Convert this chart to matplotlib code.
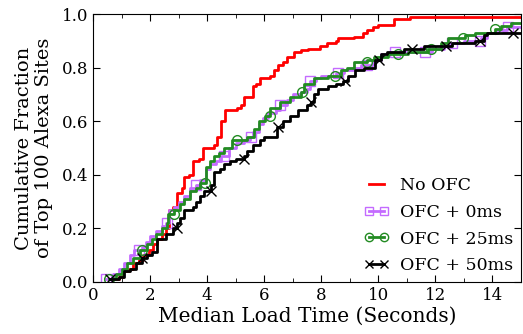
import numpy as np
import matplotlib
matplotlib.use("Agg")
import matplotlib.pyplot as plt
from matplotlib.lines import Line2D
from matplotlib.ticker import MultipleLocator

# CDF breakpoints (load time in s, cumulative fraction)
no_ofc_x = [0.6, 0.9, 1.05, 1.25, 1.4, 1.6, 1.75, 1.95, 2.1, 2.25, 2.4, 2.55, 2.65, 2.8, 2.95,
            3.1, 3.2, 3.35, 3.5, 3.7, 3.85, 4.25, 4.35, 4.5, 4.62, 5.05, 5.2, 5.3, 5.6, 5.7,
            5.85, 6.2, 6.35, 6.5, 6.65, 6.8, 7.05, 7.3, 7.55, 7.95, 8.2, 8.5, 8.6, 9.15,
            9.45, 9.6, 9.8, 10.0, 10.55, 11.1, 15.0]
no_ofc_y = [0.01, 0.02, 0.04, 0.05, 0.07, 0.08, 0.10, 0.12, 0.14, 0.16, 0.18, 0.20, 0.27, 0.28, 0.33,
            0.35, 0.39, 0.40, 0.45, 0.46, 0.50, 0.51, 0.54, 0.60, 0.64, 0.65, 0.66, 0.69, 0.73, 0.74,
            0.76, 0.77, 0.79, 0.81, 0.82, 0.84, 0.86, 0.865, 0.87, 0.88, 0.89, 0.90, 0.91, 0.915,
            0.93, 0.94, 0.95, 0.96, 0.98, 0.99, 0.99]

ofc0_x = [0.45, 0.7, 0.9, 1.1, 1.3, 1.45, 1.7, 1.85, 2.0, 2.2, 2.4, 2.55, 2.65, 2.85, 3.0, 3.2,
          3.4, 3.6, 3.75, 3.95, 4.1, 4.3, 4.5, 4.75, 5.0, 5.3, 5.5, 5.6, 5.8, 5.95, 6.15, 6.4,
          6.55, 6.8, 7.0, 7.3, 7.5, 7.6, 7.8, 8.0, 8.5, 8.8, 9.1, 9.4, 9.8, 10.1, 10.4, 11.9,
          12.3, 12.5, 13.0, 13.6, 13.8, 14.2, 14.5, 15.0]
ofc0_y = [0.01, 0.03, 0.05, 0.07, 0.10, 0.12, 0.13, 0.15, 0.17, 0.19, 0.21, 0.22, 0.27, 0.28, 0.30, 0.32,
          0.35, 0.36, 0.38, 0.42, 0.44, 0.45, 0.47, 0.50, 0.52, 0.53, 0.54, 0.56, 0.59, 0.61, 0.63, 0.64,
          0.66, 0.68, 0.70, 0.71, 0.72, 0.75, 0.76, 0.77, 0.78, 0.79, 0.80, 0.81, 0.83, 0.85, 0.86, 0.87,
          0.88, 0.89, 0.90, 0.91, 0.93, 0.94, 0.95, 0.95]
ofc0_marks = [0.45, 1.6, 2.6, 3.6, 4.6, 5.55, 6.55, 7.6, 8.6, 9.6, 10.6, 11.65, 12.6, 13.55, 14.55]

ofc25_x = [0.55, 0.8, 1.0, 1.2, 1.4, 1.65, 1.9, 2.05, 2.2, 2.4, 2.6, 2.64, 2.85, 3.05, 3.2, 3.4,
           3.6, 3.76, 3.97, 4.1, 4.23, 4.4, 4.58, 4.87, 5.4, 5.63, 5.81, 6.04, 6.22, 6.57, 6.92,
           7.28, 7.39, 7.75, 8.22, 8.69, 8.9, 9.15, 9.62, 9.86, 10.33, 11.03, 11.74, 12.2, 12.44,
           13.03, 13.38, 14.08, 14.3, 14.67, 15.0]
ofc25_y = [0.01, 0.03, 0.05, 0.07, 0.09, 0.12, 0.14, 0.16, 0.18, 0.20, 0.22, 0.255, 0.27, 0.29, 0.31, 0.34,
           0.35, 0.37, 0.43, 0.45, 0.47, 0.48, 0.50, 0.53, 0.54, 0.57, 0.60, 0.62, 0.65, 0.67, 0.69,
           0.71, 0.74, 0.76, 0.77, 0.79, 0.80, 0.82, 0.83, 0.84, 0.85, 0.86, 0.87, 0.89, 0.91,
           0.92, 0.93, 0.945, 0.955, 0.965, 0.965]
ofc25_marks = [0.55, 1.7, 2.82, 3.93, 5.05, 6.2, 7.34, 8.47, 9.59, 10.7, 11.85, 12.97, 14.08]

ofc50_x = [0.6, 0.9, 1.1, 1.3, 1.5, 1.7, 1.9, 2.05, 2.25, 2.55, 2.8, 2.95, 3.05, 3.2, 3.5, 3.6,
           3.75, 3.9, 4.15, 4.25, 4.45, 4.6, 4.8, 5.0, 5.3, 5.4, 5.6, 5.85, 6.0, 6.45, 6.65, 6.9,
           7.2, 7.5, 7.65, 7.75, 7.9, 8.25, 8.5, 8.75, 8.95, 9.2, 9.5, 9.9, 10.1, 10.3, 10.9,
           11.6, 12.6, 13.4, 13.7, 13.8, 15.0]
ofc50_y = [0.01, 0.02, 0.04, 0.05, 0.07, 0.09, 0.10, 0.11, 0.16, 0.18, 0.20, 0.22, 0.24, 0.27, 0.28, 0.30,
           0.32, 0.34, 0.36, 0.41, 0.42, 0.44, 0.45, 0.46, 0.47, 0.49, 0.51, 0.53, 0.54, 0.58, 0.60, 0.62,
           0.64, 0.66, 0.67, 0.70, 0.72, 0.73, 0.74, 0.75, 0.77, 0.79, 0.80, 0.83, 0.85, 0.86, 0.87,
           0.88, 0.89, 0.90, 0.92, 0.93, 0.93]
ofc50_marks = [0.6, 1.7, 2.93, 4.13, 5.28, 6.48, 7.65, 8.83, 10.01, 11.17, 12.38, 13.56, 14.73]

labels = ["No OFC", "OFC + 0ms", "OFC + 25ms", "OFC + 50ms"]

plt.rcParams['font.family'] = 'DejaVu Serif'


def step_at(xs, ys, q):
    idx = np.searchsorted(xs, q, side='right') - 1
    return np.asarray(ys)[np.clip(idx, 0, len(ys) - 1)]


fig = plt.figure(figsize=(5.23, 3.34), dpi=100)
ax = fig.add_axes([0.178, 0.156, 0.818, 0.802])

series = [
    (no_ofc_x, no_ofc_y, None, '#ff0000', 'None'),
    (ofc0_x, ofc0_y, ofc0_marks, '#c46bff', 's'),
    (ofc25_x, ofc25_y, ofc25_marks, '#228b22', 'o'),
    (ofc50_x, ofc50_y, ofc50_marks, 'black', 'x'),
]

handles = []
for (xs, ys, marks, col, mk), lab in zip(series, labels):
    ax.plot(xs, ys, drawstyle='steps-post', color=col, lw=2)
    if marks is not None:
        ax.plot(marks, step_at(xs, ys, marks), linestyle='none', marker=mk, ms=7,
                mfc='none', mec=col, mew=1.0)
    handles.append(Line2D([], [], color=col, lw=2, marker=mk, ms=6, mfc='none',
                          mec=col, mew=1.0))

ax.set_xlim(0, 15)
ax.set_ylim(0, 1.0)
ax.xaxis.set_major_locator(MultipleLocator(2))
ax.xaxis.set_minor_locator(MultipleLocator(1))
ax.yaxis.set_major_locator(MultipleLocator(0.2))
ax.tick_params(which='both', direction='in', top=True, right=True, labelsize=12)
ax.tick_params(which='major', length=5)
ax.tick_params(which='minor', length=3)
ax.set_xlabel('Median Load Time (Seconds)', fontsize=14.5, labelpad=2)
ax.set_ylabel('Cumulative Fraction\nof Top 100 Alexa Sites', fontsize=14, labelpad=6)

ax.legend(handles, labels, loc='lower right', frameon=False, fontsize=12.5,
          numpoints=2, handlelength=1.5, handletextpad=0.6, borderaxespad=0.05,
          labelspacing=0.55)

fig.savefig('out.png', dpi=100)
